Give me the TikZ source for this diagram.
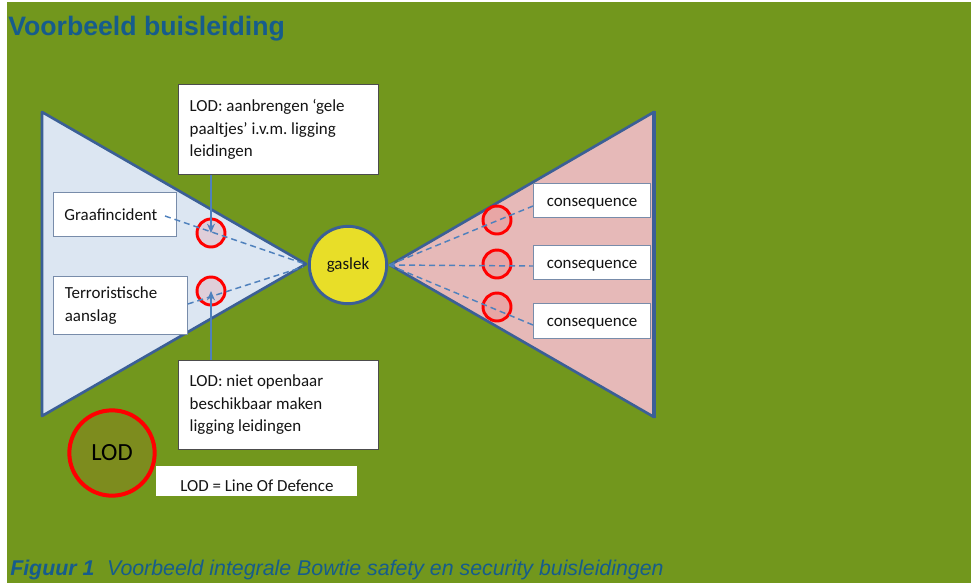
\documentclass[tikz,border=0pt]{standalone}
\usepackage{fontspec}
\setmainfont{Carlito}
\newfontfamily\arialfont{Liberation Sans}
\usetikzlibrary{arrows.meta}
\frenchspacing
\definecolor{bggreen}{RGB}{114,151,29}
\definecolor{titleblue}{RGB}{22,92,140}
\definecolor{triborder}{RGB}{59,95,150}
\definecolor{leftfill}{RGB}{220,230,242}
\definecolor{rightfill}{RGB}{230,185,184}
\definecolor{gasyellow}{RGB}{232,222,40}
\definecolor{dashblue}{RGB}{79,129,189}
\definecolor{lodfill}{RGB}{125,140,30}
\definecolor{boxedge}{RGB}{120,140,170}
\definecolor{txt}{RGB}{20,20,20}
\begin{document}
\begin{tikzpicture}[x=0.75pt,y=-0.75pt,
  boxfont/.style={font=\fontsize{12.7}{16.9}\selectfont\frenchspacing, text=txt},
  whitebox/.style={boxfont, draw=boxedge, line width=0.6pt, fill=white, rectangle, anchor=north west, inner ysep=0pt, align=flush left},
  lodbox/.style={whitebox, draw=black!70, inner xsep=8.25pt, text width=133pt, minimum width=150pt},
  consbox/.style={whitebox, align=flush center, text width=80pt, inner xsep=4pt, minimum width=87.75pt, minimum height=25.5pt, text height=11pt, text depth=2pt},
  redring/.style={circle, draw=red, line width=2.2pt, minimum size=21pt, inner sep=0pt, fill=red, fill opacity=0.1, draw opacity=1},
  tri/.style={draw=triborder, line width=2pt, line join=round},
  dashline/.style={draw=dashblue, line width=1.1pt, dash pattern=on 4.5pt off 3pt},
  lodarrow/.style={draw=dashblue, line width=1pt, -{Stealth[length=7pt,width=6pt]}}
]
\useasboundingbox (0,0) rectangle (971,583);
\fill[white] (0,0) rectangle (971,583);
\fill[bggreen] (7,2) rectangle (971,583);

% title
\node[anchor=base west, inner sep=0pt, text=titleblue, font=\arialfont\bfseries\fontsize{20}{24}\selectfont] (title) at (8,35) {Voorbeeld buisleiding};

% triangles
\filldraw[tri, fill=leftfill] (42,112) -- (306,264) -- (42,416) -- cycle;
\filldraw[tri, fill=rightfill] (390,265) -- (654,112) -- (654,417) -- cycle;
\draw[draw=triborder, line width=3pt] (654,111) -- (654,418);

% central event
\node[circle, draw=triborder, line width=2.2pt, fill=gasyellow, minimum size=58pt, inner sep=0pt, boxfont] (gas) at (348,265) {gaslek};

% threat boxes
\node[whitebox, inner xsep=8.25pt, text width=75.75pt, minimum width=92.25pt, minimum height=33pt] (graaf) at (53,192) {Graafincident};
\node[whitebox, inner xsep=8.6pt, text width=83.3pt, minimum width=100.5pt, minimum height=43.5pt] (terror) at (53,276) {Terroristische\\aanslag};

% LOD boxes
\node[lodbox, minimum height=67.5pt] (lod1) at (178,84) {LOD: aanbrengen ‘gele\\paaltjes’ i.v.m. ligging\\leidingen};
\node[lodbox, minimum height=66.75pt] (lod2) at (178,360) {LOD: niet openbaar\\beschikbaar maken\\ligging leidingen};

% consequence boxes
\node[consbox] (c1) at (533,183) {consequence};
\node[consbox] (c2) at (533,245) {consequence};
\node[consbox, minimum height=26.25pt] (c3) at (533,303) {consequence};

% barrier rings
\node[redring] (b1) at (211,233) {};
\node[redring] (b2) at (211,291) {};
\node[redring] (r1) at (497,220) {};
\node[redring] (r2) at (497,264) {};
\node[redring] (r3) at (497,307) {};

% dashed connectors
\coordinate (gastart) at (165,216);
\coordinate (apexL) at (305,264);
\coordinate (apexLb) at (303,267);
\coordinate (apexR) at (389,265);
\draw[dashline] (gastart) -- (apexL);
\draw[dashline] (terror.east |- 0,304) -- (apexLb);
\draw[dashline] (apexR) -- (c1.west |- 0,206);
\draw[dashline] (apexR) -- (c2.west |- 0,266);
\draw[dashline] (apexR) -- (c3.west |- 0,325);

% LOD arrows
\draw[lodarrow] (b1 |- lod1.south) -- (b1.center);
\draw[lodarrow] (b2 |- lod2.north) -- (b2.center);

% legend
\node[circle, draw=red, line width=3pt, fill=lodfill, minimum size=64pt, inner sep=0pt, text=black, font=\fontsize{18.5}{22}\selectfont] (lodleg) at (112,453) {LOD};
\node[whitebox, draw=none, inner xsep=9pt, inner ysep=0pt, text height=18.75pt, text depth=3.75pt, minimum width=150.75pt, minimum height=22.5pt] (legend) at (156,466) {LOD = Line Of Defence};

% caption
\node[anchor=base west, inner sep=0pt, text=titleblue, font=\arialfont\fontsize{16}{19}\selectfont] (caption) at (10,575) {{\bfseries\itshape Figuur 1}\hspace{9.5pt}{\itshape Voorbeeld integrale Bowtie safety en security buisleidingen}};
\end{tikzpicture}
\end{document}
